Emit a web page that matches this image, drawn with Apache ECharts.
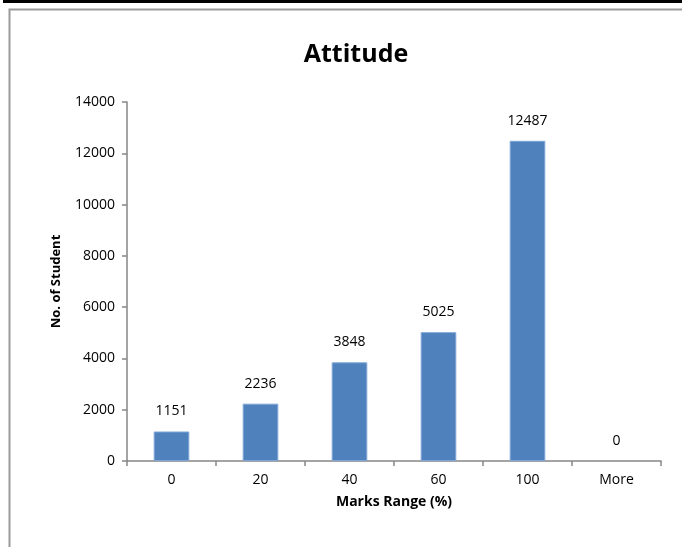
<!DOCTYPE html>
<html>
<head>
<meta charset="utf-8">
<script src="https://cdn.jsdelivr.net/npm/echarts@6/dist/echarts.min.js"></script>
<style>
  html, body { margin: 0; padding: 0; background: #fff; }
  #chart { width: 682px; height: 547px; }
</style>
</head>
<body>
<div id="chart"></div>
<script>
// Marks distribution for the "Attitude" component
const categories = ['0', '20', '40', '60', '100', 'More'];
const studentCounts = [1151, 2236, 3848, 5025, 12487, 0];
const yTicks = [0, 2000, 4000, 6000, 8000, 10000, 12000, 14000];

const FONT = '"Open Sans", Lato, sans-serif';
const chart = echarts.init(document.getElementById('chart'), null, { renderer: 'canvas' });

// empty bins get no outline so nothing is drawn on the baseline
const barData = studentCounts.map(v => ({
  value: v,
  itemStyle: v === 0 ? { borderWidth: 0 } : undefined
}));

chart.setOption({
  animation: false,
  backgroundColor: '#fff',
  title: {
    text: 'Attitude',
    left: 351,
    top: 37,
    textAlign: 'center',
    textStyle: { fontFamily: FONT, fontSize: 25, fontWeight: 'bold', color: '#000' }
  },
  graphic: [
    { type: 'rect', shape: { x: 3, y: 0, width: 690, height: 3 }, style: { fill: '#000' }, silent: true },
    { type: 'polyline', shape: { points: [[9.5, 560], [9.5, 9.5], [700, 9.5]] },
      style: { stroke: '#9a9a9a', lineWidth: 2, fill: null }, silent: true }
  ],
  grid: { left: 127, top: 102, right: 21, bottom: 86, containLabel: false },
  xAxis: {
    type: 'category',
    data: categories,
    name: 'Marks Range (%)',
    nameLocation: 'middle',
    nameGap: 34,
    nameTextStyle: { fontFamily: FONT, fontSize: 14, fontWeight: 'bold', color: '#000' },
    axisLine: { lineStyle: { color: '#868686', width: 1.5 } },
    axisTick: { show: true, alignWithLabel: false, length: 5, lineStyle: { color: '#868686', width: 1.5 } },
    axisLabel: { fontFamily: FONT, fontSize: 14, color: '#000', margin: 12 }
  },
  yAxis: {
    type: 'value',
    min: yTicks[0],
    max: yTicks[yTicks.length - 1],
    interval: yTicks[1] - yTicks[0],
    name: 'No. of Student',
    nameLocation: 'middle',
    nameGap: 64,
    nameRotate: 90,
    nameTextStyle: { fontFamily: FONT, fontSize: 13, fontWeight: 'bold', color: '#000' },
    axisLine: { show: true, lineStyle: { color: '#868686', width: 1.5 } },
    axisTick: { show: true, length: 5, lineStyle: { color: '#868686', width: 1.5 } },
    axisLabel: { fontFamily: FONT, fontSize: 14, color: '#000', margin: 12, formatter: v => String(v) },
    splitLine: { show: false }
  },
  series: [{
    type: 'bar',
    data: barData,
    barWidth: '40%',
    itemStyle: { color: '#4F81BD', borderColor: '#7fa6d6', borderWidth: 1 },
    label: {
      show: true,
      position: 'top',
      distance: 13,
      fontFamily: FONT,
      fontSize: 14,
      color: '#000'
    }
  }]
});
</script>
</body>
</html>
